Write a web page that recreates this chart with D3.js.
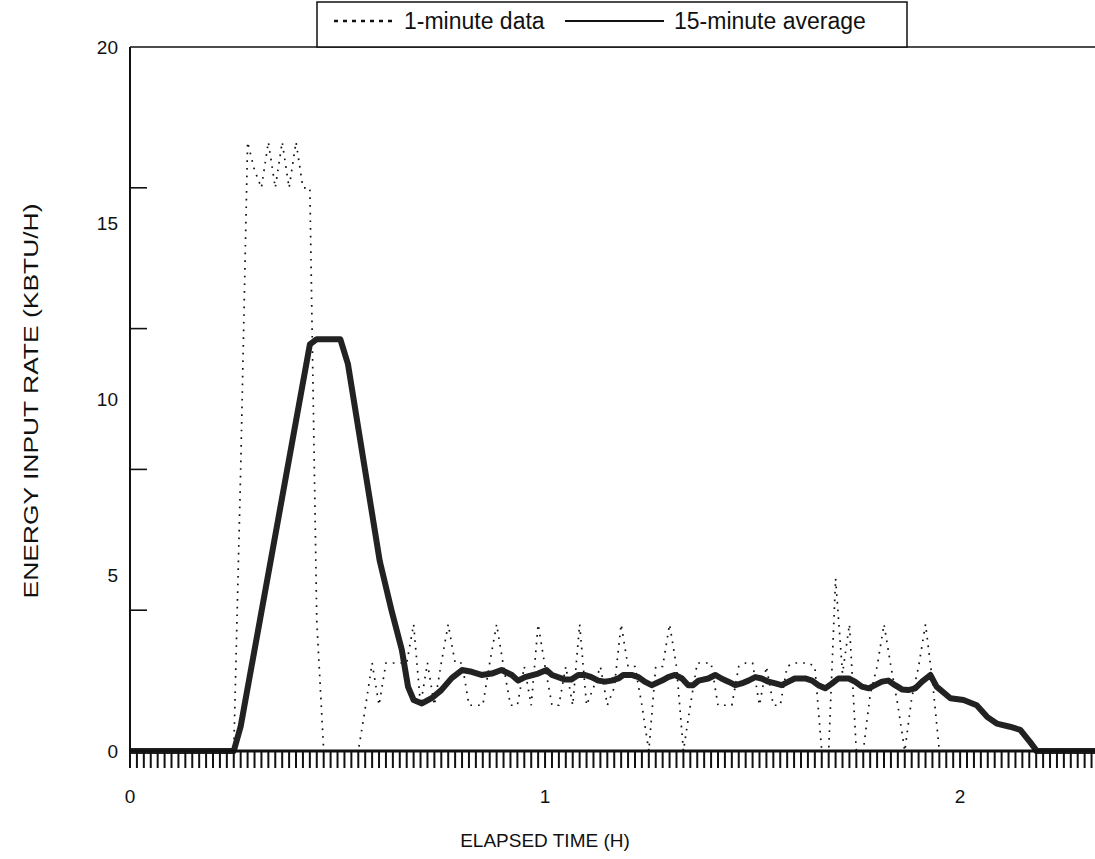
<!DOCTYPE html>
<html>
<head>
<meta charset="utf-8">
<script src="https://cdn.jsdelivr.net/npm/d3@7"></script>
<style>
  body { margin: 0; background: #fff; }
  text { font-family: "Liberation Sans", Arial, Helvetica, sans-serif; fill: #111; }
</style>
</head>
<body>
<svg width="1095" height="859"></svg>
<script>
// 1-minute readings (kBtu/h), one value per minute starting at t = 0
var oneMinute = [
  0, 0, 0, 0, 0, 0, 0, 0, 0, 0, 0, 0, 0, 0, 0,
  0, 8, 17.3, 16.5, 16, 17.3, 16, 17.3, 16, 17.3, 16, 16, 3.7, 0, 0,
  0, 0, 0, 0, 1.2, 2.5, 1.3, 2.5, 2.5, 2.5, 2.5, 3.6, 1.3, 2.5, 1.3,
  2.5, 3.6, 2.5, 2.5, 1.3, 1.3, 1.3, 2.5, 3.6, 2.4, 1.3, 1.3, 2.4, 1.3, 3.6,
  2.4, 1.3, 1.3, 2.4, 1.3, 3.6, 1.3, 1.8, 2.4, 1.3, 1.8, 3.6, 2.4, 2.4, 1.3,
  0, 2.4, 2.4, 3.6, 2.4, 0, 1.3, 2.5, 2.5, 2.5, 1.3, 1.3, 1.3, 2.4, 2.5,
  2.5, 1.3, 2.4, 1.3, 1.3, 2.4, 2.5, 2.5, 2.5, 2.4, 0, 0, 4.9, 2.2, 3.6,
  0, 0, 1.6, 2.4, 3.6, 2.4, 1.3, 0, 1.5, 2.4, 3.6, 2.0, 0, 0, 0,
  0, 0, 0, 0, 0, 0, 0, 0, 0, 0, 0, 0, 0, 0, 0
];

// 15-minute running average (minutes, kBtu/h)
var avgTime = [0, 15, 16, 26, 27, 30.4, 31.5, 36.1, 37.8, 39.3, 40.2, 41, 42.2, 43.6, 45,
  46.5, 48, 49.4, 50.8, 52.3, 53.7, 55.2, 56.1, 57.1, 59, 60.2, 61, 62.9, 63.8, 64.8,
  65.8, 66.7, 67.7, 68.7, 69.6, 70.6, 71.3, 72.5, 73.5, 74.4, 75.4, 76.9, 77.8, 78.8, 79.8,
  80.7, 81.4, 82.2, 83.6, 84.6, 85.5, 86.5, 87.5, 88.4, 89.4, 90.4, 91.3, 92.3, 93.3, 94.2,
  95.2, 96.1, 97.6, 98.6, 99.5, 100.5, 101.5, 102.4, 103.9, 104.8, 105.8, 106.8, 107.7, 108.7, 109.6,
  110.6, 111.6, 112.5, 113.5, 114.5, 115.7, 116.6, 118.6, 120.5, 122.4, 123.9, 125.3, 127.2, 128.7, 130.1,
  130.9, 131, 140];
var avgValue = [0, 0, 0.7, 11.55, 11.7, 11.7, 11.0, 5.4, 4.0, 2.87, 1.82, 1.45, 1.35, 1.5, 1.73,
  2.07, 2.3, 2.25, 2.16, 2.2, 2.3, 2.16, 2.0, 2.1, 2.2, 2.3, 2.16, 2.03, 2.03, 2.16,
  2.16, 2.1, 2.0, 1.97, 2.0, 2.06, 2.16, 2.16, 2.1, 1.97, 1.87, 2.0, 2.1, 2.16, 2.06,
  1.87, 1.87, 2.0, 2.06, 2.16, 2.06, 1.97, 1.87, 1.92, 2.0, 2.1, 2.06, 1.97, 1.92, 1.87,
  1.97, 2.06, 2.06, 2.0, 1.87, 1.78, 1.92, 2.06, 2.06, 1.97, 1.83, 1.78, 1.87, 1.97, 2.0,
  1.87, 1.75, 1.73, 1.78, 1.97, 2.16, 1.83, 1.5, 1.45, 1.3, 0.97, 0.78, 0.69, 0.6, 0.26,
  0.05, 0, 0];

var yLabels = [0, 5, 10, 15, 20];
var yTicks = [4, 8, 12, 16];
var xLabels = [0, 1, 2];
var legendItems = ["1-minute data", "15-minute average"];

var svg = d3.select("svg");
var x = d3.scaleLinear().domain([0, 2.325]).range([130, 1095]);
var y = d3.scaleLinear().domain([0, 20]).range([751, 47]);

var line = d3.line()
  .x(d => x(d[0] / 60))
  .y(d => y(d[1]));

// dotted 1-minute data
svg.append("path")
  .datum(oneMinute.map((v, i) => [i, v]))
  .attr("d", line)
  .attr("fill", "none")
  .attr("stroke", "#111")
  .attr("stroke-width", 1.7)
  .attr("stroke-dasharray", "1.7 6");

// thick 15-minute average
svg.append("path")
  .datum(avgTime.map((t, i) => [t, avgValue[i]]))
  .attr("d", line)
  .attr("fill", "none")
  .attr("stroke", "#222")
  .attr("stroke-width", 6)
  .attr("stroke-linejoin", "round");

// frame: top line, left axis, bottom axis
svg.append("line")
  .attr("x1", 130).attr("x2", 1095)
  .attr("y1", y(20)).attr("y2", y(20))
  .attr("stroke", "#111").attr("stroke-width", 1.5);

svg.append("line")
  .attr("x1", 130).attr("x2", 130)
  .attr("y1", y(20)).attr("y2", y(0) + 2)
  .attr("stroke", "#111").attr("stroke-width", 2);

svg.append("line")
  .attr("x1", 130).attr("x2", 1095)
  .attr("y1", y(0)).attr("y2", y(0))
  .attr("stroke", "#111").attr("stroke-width", 3);

// y ticks (every 4, pointing in) and labels (every 5)
svg.selectAll(".ytick")
  .data(yTicks)
  .enter()
  .append("line")
    .attr("x1", 130).attr("x2", 147)
    .attr("y1", d => y(d)).attr("y2", d => y(d))
    .attr("stroke", "#111").attr("stroke-width", 1.6);

svg.selectAll(".ylab")
  .data(yLabels)
  .enter()
  .append("text")
    .attr("x", 118)
    .attr("y", d => y(d) + 7)
    .style("text-anchor", "end")
    .style("font-size", "19px")
    .text(d => d);

// minute ticks along the time axis
svg.selectAll(".xtick")
  .data(d3.range(0, 140))
  .enter()
  .append("line")
    .attr("x1", d => x(d / 60)).attr("x2", d => x(d / 60))
    .attr("y1", y(0)).attr("y2", y(0) + 17)
    .attr("stroke", "#111").attr("stroke-width", 2);

svg.selectAll(".xlab")
  .data(xLabels)
  .enter()
  .append("text")
    .attr("x", d => x(d))
    .attr("y", 803)
    .style("text-anchor", "middle")
    .style("font-size", "19px")
    .text(d => d);

// axis titles
svg.append("text")
  .attr("x", 545)
  .attr("y", 847)
  .style("text-anchor", "middle")
  .style("font-size", "19px")
  .text("ELAPSED TIME (H)");

svg.append("text")
  .attr("transform", "translate(38,401) rotate(-90)")
  .style("text-anchor", "middle")
  .style("font-size", "20px")
  .attr("textLength", 395)
  .attr("lengthAdjust", "spacingAndGlyphs")
  .text("ENERGY INPUT RATE (KBTU/H)");

// legend box sitting on the top frame line
var legend = svg.append("g");
legend.append("rect")
  .attr("x", 317).attr("y", 2)
  .attr("width", 590).attr("height", y(20) - 2)
  .attr("fill", "#fff")
  .attr("stroke", "#111")
  .attr("stroke-width", 1.5);

legend.append("line")
  .attr("x1", 334).attr("x2", 396)
  .attr("y1", 21).attr("y2", 21)
  .attr("stroke", "#111").attr("stroke-width", 2.5)
  .attr("stroke-dasharray", "4 5");

legend.append("text")
  .attr("x", 404).attr("y", 29)
  .style("font-size", "23px")
  .text(legendItems[0]);

legend.append("line")
  .attr("x1", 565).attr("x2", 664)
  .attr("y1", 21).attr("y2", 21)
  .attr("stroke", "#111").attr("stroke-width", 2);

legend.append("text")
  .attr("x", 674).attr("y", 29)
  .style("font-size", "23px")
  .text(legendItems[1]);
</script>
</body>
</html>
